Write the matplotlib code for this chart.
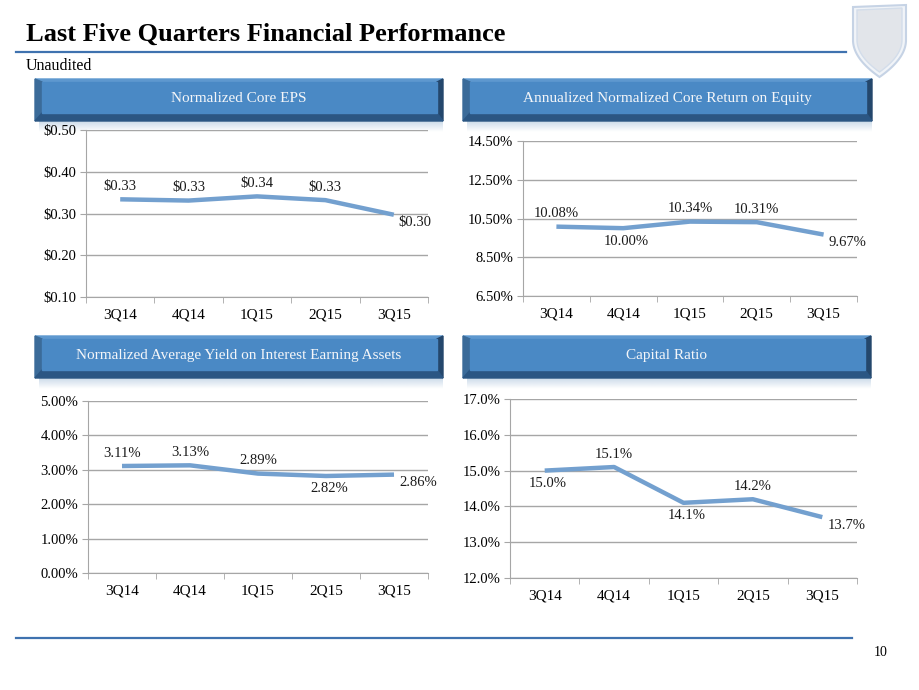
import numpy as np
import matplotlib
matplotlib.use("Agg")
import matplotlib.pyplot as plt
from matplotlib.patches import Polygon, Rectangle

plt.rcParams['font.family'] = ['Liberation Serif', 'DejaVu Serif']

# ---- data ----
quarters = ["3Q14", "4Q14", "1Q15", "2Q15", "3Q15"]

eps_values = [0.334, 0.331, 0.341, 0.332, 0.297]
eps_labels = ["$0.33", "$0.33", "$0.34", "$0.33", "$0.30"]
eps_ticks = [0.10, 0.20, 0.30, 0.40, 0.50]

roe_values = [10.08, 10.00, 10.34, 10.31, 9.67]
roe_labels = ["10.08%", "10.00%", "10.34%", "10.31%", "9.67%"]
roe_ticks = [6.5, 8.5, 10.5, 12.5, 14.5]

yield_values = [3.11, 3.13, 2.89, 2.82, 2.86]
yield_labels = ["3.11%", "3.13%", "2.89%", "2.82%", "2.86%"]
yield_ticks = [0.0, 1.0, 2.0, 3.0, 4.0, 5.0]

cap_values = [15.0, 15.1, 14.1, 14.2, 13.7]
cap_labels = ["15.0%", "15.1%", "14.1%", "14.2%", "13.7%"]
cap_ticks = [12.0, 13.0, 14.0, 15.0, 16.0, 17.0]

W, H = 920, 690
LINE = "#73A0CF"
GRID = "#A6A6A6"
RULE = "#3F72AF"

fig = plt.figure(figsize=(W / 100, H / 100), dpi=100)
bg = fig.add_axes([0, 0, 1, 1])
bg.set_xlim(0, W)
bg.set_ylim(H, 0)
bg.axis("off")


def box(l, t, r, b):
    return [l / W, 1 - b / H, (r - l) / W, (b - t) / H]


def banner(x0, y0, x1, y1, text):
    # soft shadow under the bar
    grad = np.linspace(1, 0, 20).reshape(-1, 1)
    bg.imshow(np.dstack([np.full((20, 1), 0.72), np.full((20, 1), 0.80),
                         np.full((20, 1), 0.88), grad * 0.7]),
              extent=(x0 + 4, x1, y1 + 11, y1), aspect="auto", zorder=1)
    bl, bt, br, bb = 7, 3, 6, 8
    ix0, iy0, ix1, iy1 = x0 + bl, y0 + bt, x1 - br, y1 - bb
    bg.add_patch(Polygon([(x0, y0), (x1, y0), (ix1, iy0), (ix0, iy0)], color="#5E98CF", zorder=2))
    bg.add_patch(Polygon([(x0, y0), (ix0, iy0), (ix0, iy1), (x0, y1)], color="#3B6B99", zorder=2))
    bg.add_patch(Polygon([(x1, y0), (x1, y1), (ix1, iy1), (ix1, iy0)], color="#24476C", zorder=2))
    bg.add_patch(Polygon([(x0, y1), (ix0, iy1), (ix1, iy1), (x1, y1)], color="#2B5683", zorder=2))
    bg.add_patch(Rectangle((ix0, iy0), ix1 - ix0, iy1 - iy0, color="#4A89C5", zorder=2))
    bg.text((x0 + x1) / 2, (iy0 + iy1) / 2 + 1, text, color="#F4F6F9", fontsize=11,
            ha="center", va="center", zorder=3)


def chart(rect, values, labels, ticks, fmt, places):
    ax = fig.add_axes(box(*rect))
    ax.set_facecolor("none")
    x = np.arange(len(quarters))
    ax.plot(x, values, color=LINE, lw=3.2, solid_capstyle="butt", zorder=3)
    ax.set_xlim(-0.5, len(quarters) - 0.5)
    ax.set_ylim(ticks[0], ticks[-1])
    ax.set_yticks(ticks, [fmt.format(t) for t in ticks])
    ax.set_xticks(x, quarters)
    ax.set_xticks(np.arange(len(quarters) + 1) - 0.5, minor=True)
    ax.tick_params(axis="x", which="major", length=0, pad=8, labelsize=11)
    ax.tick_params(axis="x", which="minor", length=4, color=GRID, direction="out")
    ax.tick_params(axis="y", length=4, color=GRID, direction="out", pad=3, labelsize=10.5)
    ax.yaxis.grid(True, color=GRID, lw=1)
    ax.set_axisbelow(True)
    for s in ("top", "right"):
        ax.spines[s].set_visible(False)
    for s in ("left", "bottom"):
        ax.spines[s].set_color(GRID)
    offs = {"above": ((0, 13), "center"), "below": ((3, -13), "center"), "right": ((5, -8), "left")}
    for xi, v, lab, p in zip(x, values, labels, places):
        (dx, dy), ha = offs[p]
        ax.annotate(lab, (xi, v), xytext=(dx, dy), textcoords="offset pixels",
                    ha=ha, va="center", fontsize=10.5, color="#1A1A1A",
                    annotation_clip=False)
    return ax


# header
bg.text(26, 34, "Last Five Quarters Financial Performance", fontsize=19,
        fontweight="bold", va="center", ha="left", color="black")
bg.plot([16, 846], [52, 52], color=RULE, lw=1.6)
bg.text(26, 66, "Unaudited", fontsize=11.5, va="center", ha="left")


# pale shield logo
def shield(x0, x1, ytop_l, ytop_r, yside, ytip):
    xm = (x0 + x1) / 2
    s = np.linspace(0, 1, 40)
    right = [(x1 - (x1 - xm) * u ** 1.8, yside + (ytip - yside) * u ** 0.9) for u in s]
    left = [(x0 + (xm - x0) * u ** 1.8, yside + (ytip - yside) * u ** 0.9) for u in s[::-1]]
    return [(x0, ytop_l), (x1, ytop_r)] + right + left


bg.add_patch(Polygon(shield(853, 906, 7, 5, 40, 77), closed=True,
                     facecolor="#F1F4F8", edgecolor="#C6D3E5", lw=1.5, zorder=1))
bg.add_patch(Polygon(shield(857, 902, 10, 8, 40, 72), closed=True,
                     facecolor="#E2E5EA", edgecolor="#D3DDEA", lw=1.0, zorder=1))

# footer
bg.plot([16, 852], [638, 638], color=RULE, lw=1.6)
bg.text(881, 653, "10", fontsize=10, ha="center", va="center")

banner(35, 79, 443, 121, "Normalized Core EPS")
banner(463, 79, 872, 121, "Annualized Normalized Core Return on Equity")
banner(35, 336, 443, 378, "Normalized Average Yield on Interest Earning Assets")
banner(463, 336, 871, 378, "Capital Ratio")

chart((86, 130, 428, 297), eps_values, eps_labels, eps_ticks, "${:.2f}",
      ["above", "above", "above", "above", "right"])
chart((523, 141, 857, 296), roe_values, roe_labels, roe_ticks, "{:.2f}%",
      ["above", "below", "above", "above", "right"])
chart((88, 401, 428, 573), yield_values, yield_labels, yield_ticks, "{:.2f}%",
      ["above", "above", "above", "below", "right"])
chart((510, 399, 857, 578), cap_values, cap_labels, cap_ticks, "{:.1f}%",
      ["below", "above", "below", "above", "right"])

fig.savefig("out.png", dpi=100)
